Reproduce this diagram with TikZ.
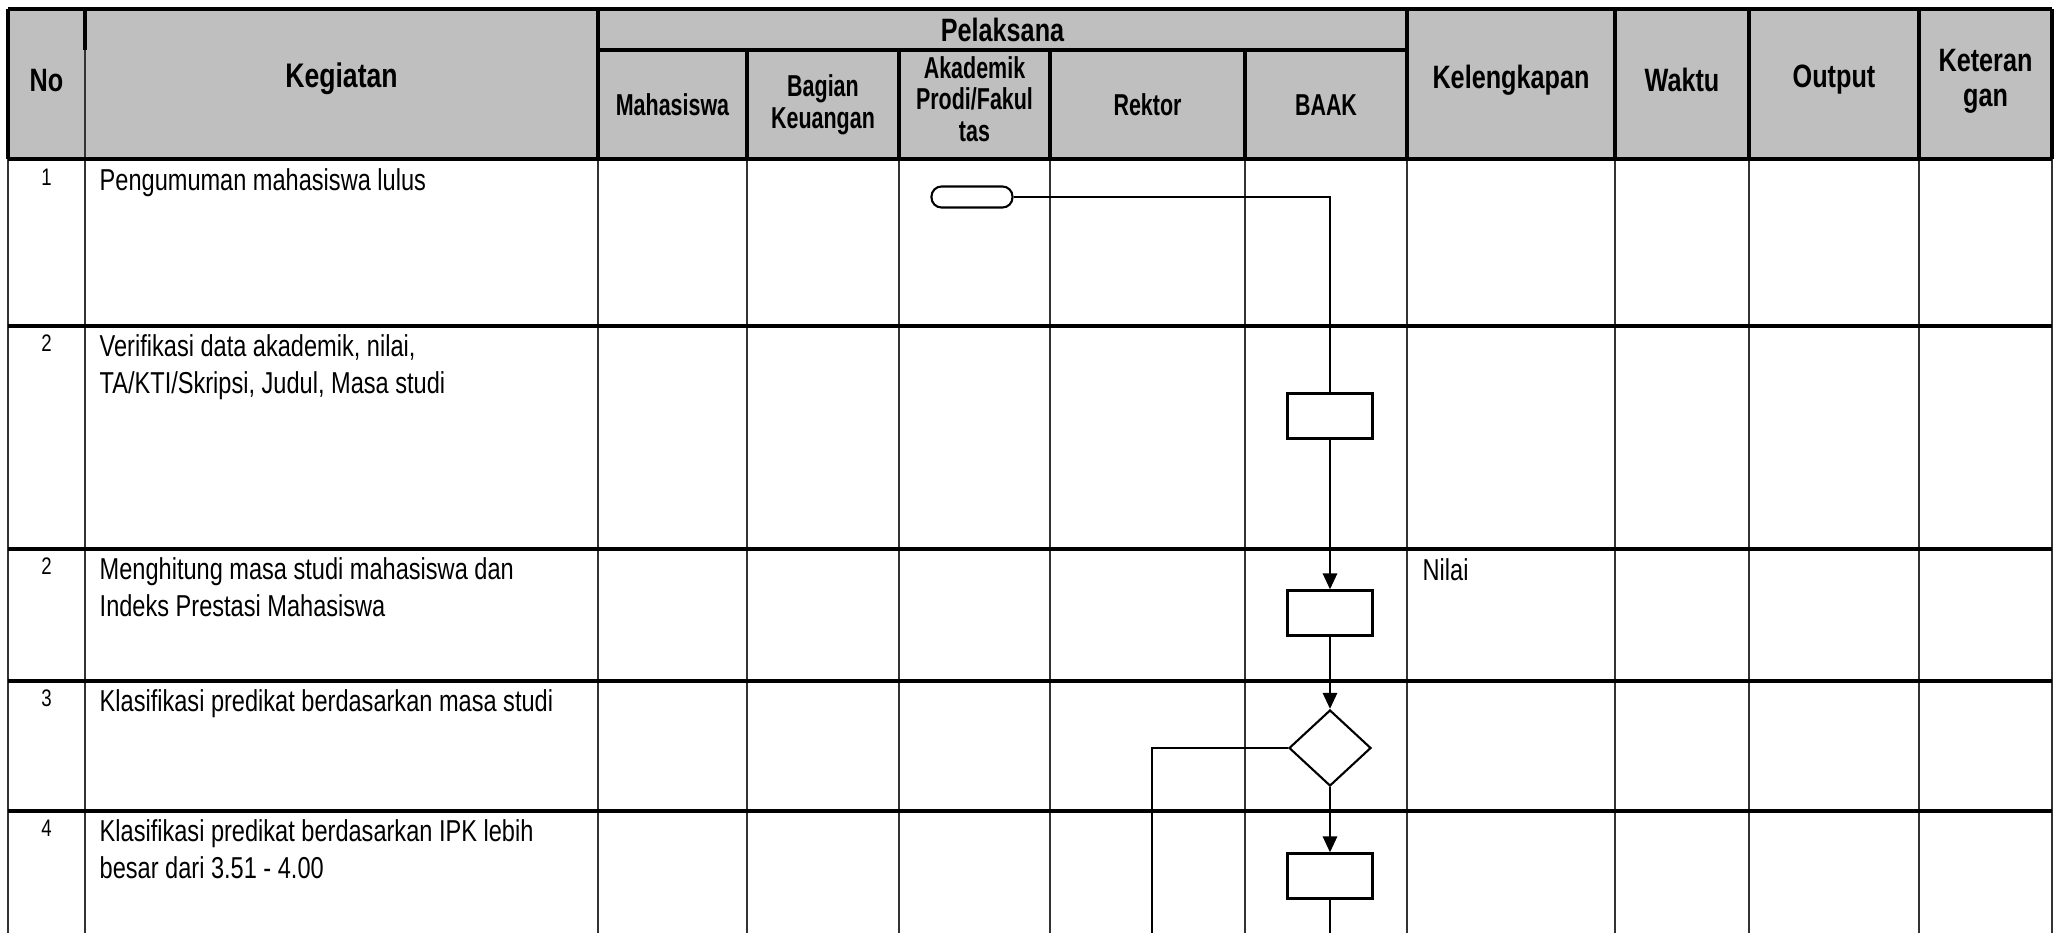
\documentclass[tikz,border=0pt]{standalone}
\usepackage{fontspec}
\setmainfont[FakeStretch=0.78]{Liberation Sans}
\newfontfamily\narrowfont[FakeStretch=0.71]{Liberation Sans}
\usepackage{xcolor}
\usepackage{tikz}
\usetikzlibrary{arrows.meta,positioning,shapes,calc}

\definecolor{hdrgray}{HTML}{BFBFBF}

\begin{document}
\begin{tikzpicture}[
  hd/.style={font=\fontsize{9.2pt}{10pt}\selectfont\bfseries, align=center, inner sep=0pt},
  sub/.style={font=\narrowfont\fontsize{8.6pt}{9pt}\selectfont\bfseries, align=center, inner sep=0pt},
  txt/.style={font=\fontsize{8.6pt}{10.5pt}\selectfont, align=left, anchor=north west, inner sep=0pt},
  num/.style={font=\fontsize{6.8pt}{8pt}\selectfont, anchor=north, inner sep=0pt},
  term/.style={draw, fill=white, rounded corners=0.1cm, minimum width=0.81cm,
               minimum height=0.21cm, inner sep=0pt, line width=0.6pt},
  proc/.style={draw, fill=white, minimum width=0.85cm, minimum height=0.45cm,
               inner sep=0pt, line width=0.6pt},
  dec/.style={draw, fill=white, diamond, minimum width=0.82cm, minimum height=0.76cm,
              inner sep=0pt, line width=0.6pt},
  flow/.style={line width=0.8pt},
  arr/.style={flow, -{Triangle[width=1.4mm,length=1.6mm]}},
  gridln/.style={line width=0.4pt, black!80},
  rowln/.style={line width=1.2pt},
  hdrln/.style={line width=1pt}
]
  \useasboundingbox (0,0) rectangle (20.6,-9.33);

  \fill[hdrgray] (0.08,-0.09) rectangle (20.52,-1.59);

  \foreach \x in {0.08,0.85,5.98,7.47,8.99,10.50,12.45,14.07,16.15,17.49,19.19,20.52}
    \draw[gridln] (\x,-1.59) -- (\x,-9.33);
  \foreach \x in {0.08,5.98,14.07,16.15,17.49,19.19,20.52}
    \draw[hdrln] (\x,-0.09) -- (\x,-1.59);
  \foreach \x in {7.47,8.99,10.50,12.45}
    \draw[hdrln] (\x,-0.50) -- (\x,-1.59);
  \draw[gridln] (0.85,-0.50) -- (0.85,-1.59);
  \draw[hdrln] (0.85,-0.09) -- (0.85,-0.50);

  \draw[hdrln] (0.08,-0.09) -- (20.52,-0.09);
  \draw[hdrln] (5.98,-0.50) -- (14.07,-0.50);
  \draw[hdrln] (0.08,-1.59) -- (20.52,-1.59);
  \foreach \y in {-3.26,-5.49,-6.81,-8.11}
    \draw[rowln] (0.08,\y) -- (20.52,\y);

  \node[hd] (hNo)   at (0.465,-0.81) {No};
  \node[hd, font=\fontsize{9.7pt}{10pt}\selectfont\bfseries] (hKeg) at (3.415,-0.79) {Kegiatan};
  \node[hd] (hPel)  at (10.025,-0.30) {Pelaksana};
  \node[sub] (hMhs)  at (6.725,-1.05) {Mahasiswa};
  \node[sub] (hBag)  at (8.23,-1.05) {Bagian\\Keuangan};
  \node[sub] (hAka)  at (9.745,-0.99) {Akademik\\Prodi/Fakul\\tas};
  \node[sub] (hRek)  at (11.475,-1.05) {Rektor};
  \node[sub] (hBaak) at (13.26,-1.05) {BAAK};
  \node[hd] (hKel)  at (15.11,-0.80) {Kelengkapan};
  \node[hd] (hWkt)  at (16.82,-0.80) {Waktu};
  \node[hd] (hOut)  at (18.34,-0.80) {Output};
  \node[hd] (hKet)  at (19.855,-0.81) {Keteran\\gan};

  \node[num] (n1) at (0.465,-1.68) {1};
  \node[num] (n2) at (0.465,-3.34) {2};
  \node[num] (n3) at (0.465,-5.57) {2};
  \node[num] (n4) at (0.465,-6.89) {3};
  \node[num] (n5) at (0.465,-8.19) {4};

  \node[txt] (k1) at (0.99,-1.68) {Pengumuman mahasiswa lulus};
  \node[txt] (k2) at (0.99,-3.34) {Verifikasi data akademik, nilai,\\TA/KTI/Skripsi, Judul, Masa studi};
  \node[txt] (k3) at (0.99,-5.57) {Menghitung masa studi mahasiswa dan\\Indeks Prestasi Mahasiswa};
  \node[txt] (k4) at (0.99,-6.89) {Klasifikasi predikat berdasarkan masa studi};
  \node[txt] (k5) at (0.99,-8.19) {Klasifikasi predikat berdasarkan IPK lebih\\besar dari 3.51 - 4.00};
  \node[txt] (nilai) at (14.22,-5.58) {Nilai};

  \node[term] (start) at (9.72,-1.97) {};
  \node[proc] (p1) at (13.30,-4.16) {};
  \node[proc] (p2) at (13.30,-6.13) {};
  \node[dec]  (d1) at (13.30,-7.48) {};
  \node[proc] (p3) at (13.30,-8.76) {};
  \coordinate (e1) at (11.52,-9.33);
  \coordinate (e2) at (13.30,-9.33);

  \draw[flow] (start.east) -| (p1.north);
  \draw[arr] (p1.south) -- (p2.north);
  \draw[arr] (p2.south) -- (d1.north);
  \draw[arr] (d1.south) -- (p3.north);
  \draw[flow] (d1.west) -| (e1);
  \draw[flow] (p3.south) -- (e2);
\end{tikzpicture}
\end{document}
